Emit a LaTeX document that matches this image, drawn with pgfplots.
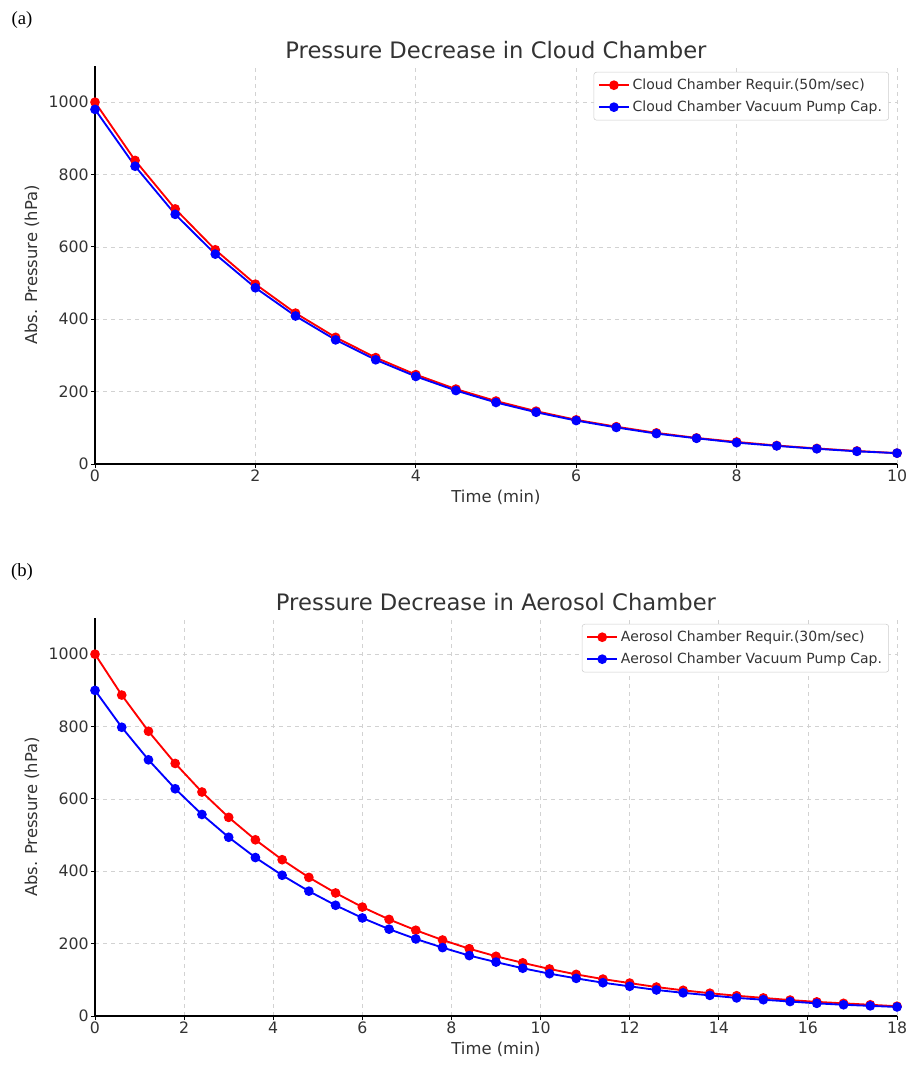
\documentclass[border=0pt]{standalone}
\usepackage{pgfplots}
\pgfplotsset{compat=1.18}
\usepackage{fontspec}
\setmainfont{DejaVu Sans}
\newfontfamily\seriffont{Liberation Serif}
\definecolor{txt}{gray}{0.2}
\pgfplotsset{mystyle/.style={
  scale only axis, width=601.5pt, height=298.5pt,
  axis x line*=bottom, axis y line*=left,
  xmin=0, ymin=0, ymax=1100,
  ytick={0,200,400,600,800,1000},
  grid=major, major grid style={dashed, gray!35, line width=0.5pt},
  tick align=outside, tick style={black, line width=0.7pt}, major tick length=3pt,
  axis line style={line width=0.8pt, black},
  ticklabel style={font=\fontsize{11.8}{13}\selectfont, text=txt, inner sep=1.5pt},
  /pgf/number format/assume math mode=true,
  /pgf/number format/1000 sep={},
  label style={font=\fontsize{12.3}{14}\selectfont, text=txt},
  xlabel style={yshift=-1pt},
  ylabel style={yshift=2pt},
  title style={font=\fontsize{17}{20}\selectfont, text=txt, yshift=-4pt},
  legend style={at={(0.99,0.985)}, anchor=north east, font=\fontsize{10.5}{12.5}\selectfont, text=txt, draw=gray!40, rounded corners=2pt, row sep=3pt, inner sep=3pt},
  legend cell align=left,
  legend image code/.code={\draw[mark repeat=2, mark phase=2] plot coordinates {(0cm,0cm) (0.4cm,0cm) (0.8cm,0cm)};},
  every axis plot/.append style={line width=1.4pt, mark=*, mark size=2.9pt},
  xlabel={Time (min)}, ylabel={Abs. Pressure (hPa)},
}}
\pgfplotstableread{
t red blue
0 1000 980
0.5 839 823
1 705 690
1.5 592 580
2 497 487
2.5 417 409
3 350 343
3.5 294 288
4 247 242
4.5 207 203
5 174 170
5.5 146 143
6 122 120
6.5 103 101
7 86 84
7.5 72 71
8 61 59
8.5 51 50
9 43 42
9.5 36 35
10 30 30
}\cloud
\pgfplotstableread{
t red blue
0 1000 900
0.6 887 798
1.2 787 708
1.8 698 628
2.4 619 557
3.0 549 494
3.6 487 438
4.2 432 389
4.8 383 345
5.4 340 306
6.0 301 271
6.6 267 240
7.2 237 213
7.8 210 189
8.4 186 167
9.0 165 149
9.6 147 132
10.2 130 117
10.8 115 104
11.4 102 92
12.0 91 82
12.6 80 72
13.2 71 64
13.8 63 57
14.4 56 50
15.0 50 45
15.6 44 40
16.2 39 35
16.8 35 31
17.4 31 28
18.0 27 25
}\aerosol
\begin{document}
\begin{tikzpicture}
\path (0,0) rectangle (690pt,802.5pt);
\node[anchor=center, font=\seriffont\fontsize{14}{16}\selectfont] at (16.5pt,787.5pt) {(a)};
\node[anchor=center, font=\seriffont\fontsize{14}{16}\selectfont] at (16.5pt,373.5pt) {(b)};
\begin{axis}[mystyle, at={(71.25pt,454.5pt)}, anchor=south west,
  xmax=10, xtick={0,2,4,6,8,10},
  title={Pressure Decrease in Cloud Chamber}]
\addplot[red] table[x=t, y=red] {\cloud};
\addlegendentry{Cloud Chamber Requir.(50m/sec)}
\addplot[blue] table[x=t, y=blue] {\cloud};
\addlegendentry{Cloud Chamber Vacuum Pump Cap.}
\end{axis}
\begin{axis}[mystyle, at={(71.25pt,40.5pt)}, anchor=south west,
  xmax=18, xtick={0,2,4,6,8,10,12,14,16,18},
  title={Pressure Decrease in Aerosol Chamber}]
\addplot[red] table[x=t, y=red] {\aerosol};
\addlegendentry{Aerosol Chamber Requir.(30m/sec)}
\addplot[blue] table[x=t, y=blue] {\aerosol};
\addlegendentry{Aerosol Chamber Vacuum Pump Cap.}
\end{axis}
\end{tikzpicture}
\end{document}
